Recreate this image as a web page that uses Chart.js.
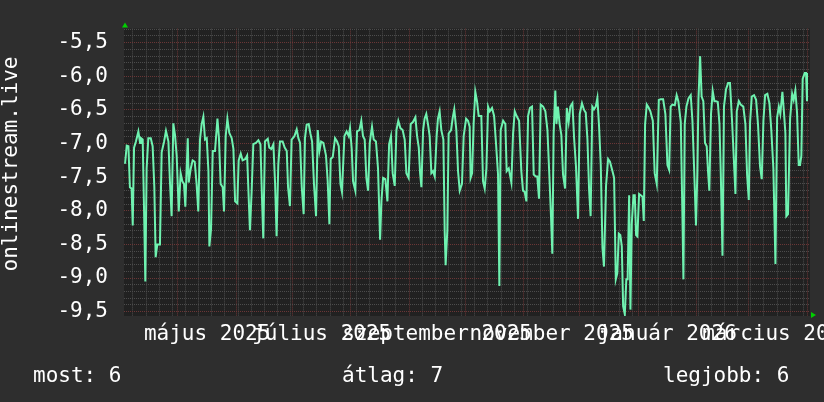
<!DOCTYPE html>
<html lang="hu">
<head>
<meta charset="utf-8">
<title>onlinestream.live</title>
<script src="https://cdn.jsdelivr.net/npm/chart.js@4.4.0/dist/chart.umd.min.js"></script>
<style>
  html, body { margin: 0; padding: 0; background: #2e2e2e; }
  canvas { display: block; }
</style>
</head>
<body>
<canvas id="grafikon" width="824" height="402"></canvas>
<script>
// napok 2025-04-02 óta (tört napok a leolvasás miatt)
const dayOffsets = [
  0.8, 1.7, 2.6, 3.4, 4.3, 4.9, 5.6, 6.6, 7.9, 8.8, 9.3, 10.2, 10.9, 11.6, 12.3, 13.2, 14.5, 15.5, 16.4, 17.1,
  18.0, 19.4, 20.3, 21.6, 22.6, 23.9, 24.7, 25.6, 26.5, 27.4, 28.3, 29.4, 30.4, 31.3, 32.2, 32.9, 34.2, 34.7, 35.8, 36.8,
  37.9, 38.9, 39.8, 40.7, 41.6, 42.5, 43.4, 44.3, 45.2, 45.7, 46.6, 47.5, 48.7, 50.0, 50.8, 51.7, 52.8, 53.5, 54.4, 55.3,
  56.3, 57.6, 58.5, 59.4, 60.6, 61.3, 62.4, 63.4, 64.9, 65.8, 66.5, 67.3, 68.2, 69.1, 70.5, 71.8, 72.9, 73.7, 74.4, 75.3,
  76.8, 77.6, 78.7, 79.8, 80.7, 81.5, 82.4, 83.3, 84.7, 85.8, 86.9, 87.6, 88.6, 89.5, 91.0, 92.2, 93.1, 94.0, 94.9, 95.9,
  96.6, 97.5, 98.6, 99.5, 100.4, 101.4, 102.5, 103.4, 104.3, 105.2, 106.4, 107.8, 108.7, 109.6, 110.3, 111.4, 112.6, 113.7, 114.6, 115.5,
  116.3, 117.6, 118.8, 119.9, 120.6, 121.5, 122.2, 123.4, 124.3, 125.6, 126.6, 127.5, 128.4, 129.3, 130.2, 131.1, 132.3, 133.2, 134.4, 135.5,
  136.6, 137.3, 138.2, 139.4, 140.5, 141.4, 142.4, 143.3, 144.4, 145.3, 146.3, 147.4, 148.6, 149.7, 150.6, 151.8, 152.9, 154.1, 155.4, 156.3,
  157.2, 157.9, 158.6, 159.5, 160.3, 161.2, 162.1, 163.0, 163.9, 164.8, 165.7, 166.7, 167.4, 168.3, 169.2, 170.3, 171.0, 171.5, 172.4, 173.1,
  174.4, 175.3, 176.1, 177.2, 178.1, 179.0, 180.2, 181.1, 182.4, 183.4, 184.3, 184.8, 185.6, 186.4, 187.3, 188.2, 189.1, 190.5, 191.4, 192.3,
  193.2, 194.1, 195.0, 196.2, 197.3, 198.3, 199.4, 200.1, 200.8, 202.1, 203.3, 204.0, 205.1, 206.5, 207.4, 208.3, 209.3, 210.6, 211.8, 212.7,
  213.6, 214.5, 215.4, 216.4, 217.5, 218.4, 219.5, 220.3, 221.2, 222.1, 223.4, 224.6, 225.7, 226.7, 227.6, 228.3, 229.0, 229.9, 230.5, 231.3,
  232.2, 233.1, 234.0, 235.1, 236.0, 237.0, 237.9, 239.0, 239.9, 240.9, 242.0, 242.9, 244.1, 245.2, 246.1, 247.0, 247.9, 248.7, 249.6, 250.5,
  251.4, 252.3, 253.2, 254.1, 255.0, 255.8, 256.9, 258.0, 259.0, 260.3, 261.2, 262.1, 262.9, 263.7, 264.5, 265.3, 266.0, 266.9, 267.7, 268.4,
  269.2, 269.9, 270.6, 271.5, 272.2, 272.9, 273.6, 274.5, 275.4, 276.3, 277.0, 277.7, 278.6, 279.5, 280.5, 281.8, 282.8, 283.9, 285.0, 286.0,
  287.3, 288.5, 289.6, 290.5, 291.3, 292.2, 293.5, 294.5, 295.4, 296.7, 297.6, 298.1, 298.8, 299.7, 300.8, 302.0, 302.9, 303.8, 304.8, 305.5,
  306.1, 307.0, 307.8, 308.7, 309.6, 310.5, 311.2, 311.9, 312.8, 313.7, 314.6, 315.5, 316.4, 317.3, 318.0, 318.9, 319.7, 320.8, 321.9, 322.9,
  324.0, 324.7, 325.8, 326.5, 327.6, 328.6, 330.0, 331.1, 332.0, 332.9, 333.6, 334.5, 335.7, 336.8, 337.8, 338.9, 339.8, 340.7, 341.6, 342.8,
  343.9, 344.9, 346.0, 347.1, 348.0, 348.9, 349.7, 350.8, 351.7, 352.4, 352.9, 353.8, 354.9, 356.0, 356.8, 357.7, 358.6, 359.5, 360.2, 360.9,
  361.6, 362.7, 363.4, 363.9
];
const values = [
  -7.30, -7.03, -7.04, -7.65, -7.67, -8.22, -7.06, -6.97, -6.82, -6.99, -6.92, -6.94, -7.94, -9.05, -7.37, -6.92, -6.92, -7.04, -7.65, -8.69,
  -8.50, -8.50, -7.13, -6.97, -6.81, -6.97, -7.56, -8.08, -6.70, -6.87, -7.18, -8.01, -7.44, -7.56, -7.60, -7.94, -6.92, -7.58, -7.37, -7.25,
  -7.27, -7.60, -8.01, -6.94, -6.71, -6.60, -6.94, -6.92, -7.41, -8.53, -8.27, -7.11, -7.11, -6.63, -6.92, -7.60, -7.65, -8.01, -6.89, -6.63,
  -6.84, -6.92, -7.08, -7.86, -7.89, -7.25, -7.15, -7.25, -7.23, -7.18, -7.70, -8.29, -7.72, -7.01, -6.99, -6.95, -7.01, -7.79, -8.41, -6.97,
  -6.93, -7.06, -7.08, -7.01, -7.60, -8.38, -7.32, -6.97, -6.97, -7.06, -7.11, -7.65, -7.93, -6.94, -6.89, -6.79, -6.92, -6.99, -7.65, -8.05,
  -6.92, -6.72, -6.71, -6.85, -6.97, -7.60, -8.08, -6.80, -7.11, -6.97, -6.99, -7.18, -7.56, -8.20, -7.23, -7.20, -6.92, -6.97, -7.04, -7.60,
  -7.72, -6.89, -6.82, -6.89, -6.77, -7.08, -7.56, -7.70, -6.82, -6.80, -6.66, -6.89, -6.94, -7.51, -7.70, -6.99, -6.75, -6.94, -6.97, -7.37,
  -8.43, -7.86, -7.51, -7.53, -7.86, -7.01, -6.89, -7.44, -7.63, -6.80, -6.66, -6.77, -6.80, -6.94, -7.44, -7.51, -6.71, -6.68, -6.61, -6.89,
  -7.06, -7.44, -7.65, -6.80, -6.63, -6.56, -6.71, -6.89, -7.44, -7.41, -7.49, -6.89, -6.63, -6.52, -6.80, -6.94, -8.31, -8.81, -8.29, -6.85,
  -6.80, -6.61, -6.49, -6.80, -7.41, -7.70, -7.60, -6.89, -6.63, -6.66, -6.75, -7.51, -7.44, -6.71, -6.23, -6.37, -6.59, -6.59, -7.56, -7.67,
  -7.37, -6.45, -6.52, -6.47, -6.59, -6.99, -7.46, -9.12, -6.80, -6.66, -6.71, -7.41, -7.37, -7.58, -6.85, -6.52, -6.59, -6.66, -7.41, -7.70,
  -7.72, -7.86, -6.59, -6.47, -6.45, -7.46, -7.49, -7.49, -7.82, -6.42, -6.45, -6.52, -6.80, -7.46, -8.08, -8.64, -6.85, -6.21, -6.71, -6.45,
  -6.71, -6.87, -7.46, -7.67, -6.47, -6.68, -6.45, -6.40, -6.92, -7.34, -8.12, -6.56, -6.40, -6.50, -6.54, -6.94, -7.70, -8.08, -6.45, -6.49,
  -6.45, -6.32, -6.75, -7.32, -8.55, -8.83, -7.63, -7.23, -7.27, -7.41, -7.51, -9.02, -8.93, -8.34, -8.36, -8.53, -9.42, -9.54, -9.02, -9.02,
  -7.77, -9.47, -8.20, -7.77, -7.77, -8.36, -8.38, -7.75, -7.77, -7.79, -8.15, -6.71, -6.42, -6.46, -6.52, -6.66, -7.44, -7.60, -6.35, -6.34,
  -6.34, -6.56, -7.32, -7.39, -6.45, -6.42, -6.43, -6.28, -6.37, -6.68, -8.12, -9.02, -6.71, -6.45, -6.33, -6.28, -6.66, -7.37, -8.22, -7.46,
  -6.35, -5.70, -6.30, -6.37, -6.99, -7.04, -7.41, -7.70, -6.56, -6.22, -6.37, -6.37, -6.38, -6.71, -7.44, -8.67, -6.45, -6.19, -6.10, -6.10,
  -6.66, -7.08, -7.75, -6.52, -6.37, -6.42, -6.45, -6.71, -7.46, -7.84, -6.68, -6.30, -6.28, -6.35, -6.71, -7.34, -7.53, -6.66, -6.28, -6.26,
  -6.40, -6.80, -7.37, -8.79, -6.61, -6.45, -6.56, -6.23, -6.56, -6.85, -8.08, -8.05, -6.63, -6.26, -6.35, -6.21, -6.54, -7.32, -7.32, -7.18,
  -6.04, -5.95, -5.95, -6.37
];

// két havonta kiírt hónapok: [év, hónap (0-tól)]
const labelMonths = [[2025, 4], [2025, 6], [2025, 8], [2025, 10], [2026, 0], [2026, 2]];
const monthLabels = ['május 2025', 'július 2025', 'szeptember 2025', 'november 2025', 'január 2026', 'március 2026'];
const legendTexts = ['most: 6', 'átlag: 7', 'legjobb: 6'];
const axisTitle = 'onlinestream.live';

const START = Date.UTC(2025, 3, 2);
const FONT = "'DejaVu Sans Mono', monospace";
const RED = '#6a3636';
const GRAY = '#4c4c4c';

function dayOf(y, m, d) {
    return (Date.UTC(y, m, d) - START) / 864e5;
}

// hónapkezdetek 2025 május .. 2026 április
const monthStarts = [];
for (let i = 0; i < 12; i++) {
    monthStarts.push(dayOf(2025, 4 + i, 1));
}

// heti rács hétfőnként (2025-04-07 = 5. nap)
const gridDays = [...monthStarts];
for (let d = 5; d < 366; d += 7) {
    if (!monthStarts.includes(d)) gridDays.push(d);
}
gridDays.sort((a, b) => a - b);

const yGrid = [];
for (let i = -95; i <= -53; i++) yGrid.push(i / 10);

function isMajor(v) {
    return Math.round(v * 10) % 5 === 0;
}

const points = dayOffsets.map((d, i) => ({ x: d, y: values[i] }));

const keret = {
    id: 'keret',
    beforeDraw(chart) {
        const { ctx, chartArea: a } = chart;
        ctx.save();
        ctx.fillStyle = '#2e2e2e';
        ctx.fillRect(0, 0, chart.width, chart.height);
        ctx.fillStyle = '#212121';
        ctx.fillRect(a.left, a.top, a.right - a.left, a.bottom - a.top);
        ctx.restore();
    },
    afterDraw(chart) {
        const { ctx, chartArea: a } = chart;
        const xs = chart.scales.x;
        ctx.save();
        ctx.font = '21px ' + FONT;
        ctx.fillStyle = '#ffffff';

        // függőleges tengelycím
        ctx.save();
        ctx.translate(12, 164);
        ctx.rotate(-Math.PI / 2);
        ctx.textAlign = 'center';
        ctx.textBaseline = 'middle';
        ctx.fillText(axisTitle, 0, 0);
        ctx.restore();

        // hónap feliratok a hónap közepére
        ctx.textAlign = 'center';
        ctx.textBaseline = 'alphabetic';
        labelMonths.forEach(([y, m], i) => {
            const mid = (dayOf(y, m, 1) + dayOf(y, m + 1, 1)) / 2;
            ctx.fillText(monthLabels[i], xs.getPixelForValue(mid), 340);
        });

        // alsó összesítő
        ctx.textAlign = 'left';
        ctx.fillText(legendTexts[0], 33, 382);
        ctx.fillText(legendTexts[1], 342, 382);
        ctx.fillText(legendTexts[2], 663, 382);

        // nyilak a tengelyek végén
        ctx.fillStyle = '#00d000';
        ctx.beginPath();
        ctx.moveTo(a.left + 1, a.top - 6);
        ctx.lineTo(a.left - 2, a.top - 1);
        ctx.lineTo(a.left + 4, a.top - 1);
        ctx.closePath();
        ctx.fill();
        ctx.beginPath();
        ctx.moveTo(a.right + 6, a.bottom - 1);
        ctx.lineTo(a.right + 1, a.bottom - 4);
        ctx.lineTo(a.right + 1, a.bottom + 2);
        ctx.closePath();
        ctx.fill();
        ctx.restore();
    }
};

new Chart(document.getElementById('grafikon'), {
    type: 'line',
    data: {
        datasets: [{
            label: axisTitle,
            data: points,
            borderColor: '#6ff2b0',
            borderWidth: 2,
            pointRadius: 0,
            tension: 0,
            fill: false
        }]
    },
    options: {
        responsive: false,
        animation: false,
        layout: { padding: { top: 14, right: 14, left: 0, bottom: 0 } },
        plugins: {
            legend: { display: false },
            tooltip: { enabled: false }
        },
        scales: {
            x: {
                type: 'linear',
                min: 0.25,
                max: 365.5,
                afterBuildTicks(scale) {
                    scale.ticks = gridDays.map(v => ({ value: v }));
                },
                afterFit(scale) {
                    scale.height = 86;
                },
                ticks: { display: false, autoSkip: false },
                grid: {
                    drawTicks: false,
                    lineWidth: 1,
                    color: c => (c.tick && monthStarts.includes(c.tick.value)) ? RED : GRAY
                },
                border: { display: false, dash: [1, 1] }
            },
            y: {
                type: 'linear',
                min: -9.565,
                max: -5.29,
                afterBuildTicks(scale) {
                    scale.ticks = yGrid.map(v => ({ value: v }));
                },
                afterFit(scale) {
                    scale.width = 124;
                },
                ticks: {
                    autoSkip: false,
                    padding: 16,
                    color: '#ffffff',
                    font: { family: FONT, size: 21 },
                    callback: v => isMajor(v) ? v.toFixed(1).replace('.', ',') : ''
                },
                grid: {
                    drawTicks: false,
                    lineWidth: 1,
                    color: c => (c.tick && isMajor(c.tick.value)) ? RED : GRAY
                },
                border: { display: false, dash: [1, 1] }
            }
        }
    },
    plugins: [keret]
});
</script>
</body>
</html>
